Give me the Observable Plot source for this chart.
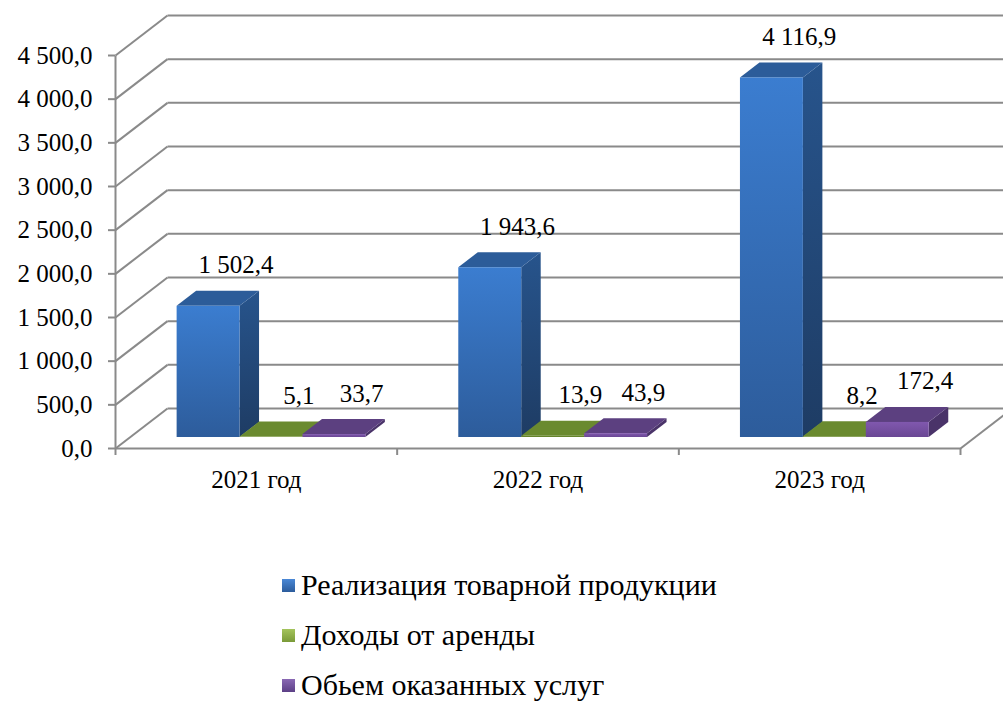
<!DOCTYPE html>
<html><head><meta charset="utf-8">
<script src="https://cdn.jsdelivr.net/npm/d3@7"></script>
<script src="https://cdn.jsdelivr.net/npm/@observablehq/plot@0.6"></script>
<style>
html,body{margin:0;padding:0;background:#fff;overflow:hidden;}
#wrap{position:relative;width:1003px;height:706px;overflow:hidden;}
#chart{position:absolute;left:0;top:0;}
#legend{position:absolute;left:282px;top:560px;font-family:"Liberation Serif","Times New Roman","Tinos","Noto Serif","DejaVu Serif",serif;font-size:30px;line-height:1.15;color:#000;}
.item{display:flex;align-items:center;height:50px;white-space:nowrap;}
.sw{width:13px;height:13px;margin-right:6px;flex:none;}
#chart svg text{font-family:"Liberation Serif","Times New Roman","Tinos","Noto Serif","DejaVu Serif",serif;}
g[aria-label="y-axis"] line, g[aria-label="x-axis"] line,
g[aria-label="y-axis tick"] path, g[aria-label="x-axis tick"] path{stroke:#8a8a8a;stroke-width:2px;}
g[aria-label="y-axis"] text, g[aria-label="y-axis tick label"] text{fill:#000;}
</style></head>
<body><div id="wrap"><div id="chart"></div><div id="legend"></div></div>
<script>
// ---- data ----
const years = ["2021 год", "2022 год", "2023 год"];
const seriesNames = ["Реализация товарной продукции", "Доходы от аренды", "Обьем оказанных услуг"];
const sales = [1502.4, 1943.6, 4116.9];
const rent = [5.1, 13.9, 8.2];
const services = [33.7, 43.9, 172.4];
const yTicks = [0, 500, 1000, 1500, 2000, 2500, 3000, 3500, 4000, 4500];

// ---- styling / projection constants ----
const seriesVals = [sales, rent, services];
const frontFill = ["url(#gBlueFront)", "url(#gGreenFront)", "url(#gPurpleFront)"];
const sideFill = ["url(#gBlueSide)", "#55701f", "#4a3369"];
const topFill = ["#2c5c99", "#6a8a2f", "#5c4080"];
const legendFill = ["linear-gradient(#4a88d6,#2c5c9c)", "linear-gradient(#a4c45c,#7a9a38)", "linear-gradient(#8a68b4,#5c4086)"];
const DX = 52 / (845 / 3);      // depth -> x (category units)
const DY = 40 / (393 / 4500);   // depth -> y (value units)
const F0 = 0.275, F1 = 0.65, FL = 0.8;
const BAR_W = 0.2234, GROUP_OFF = 0.168;
const GRID = "#8a8a8a";
const FONT = "'Liberation Serif','Times New Roman','Tinos','Noto Serif','DejaVu Serif',serif";

const loc = d3.formatLocale({decimal: ",", thousands: "\u00a0", grouping: [3], currency: ["", ""]});
const fmt = loc.format(",.1f");

const rows = years.flatMap((yr, i) => seriesVals.map((vals, j) => ({i, j, year: yr, series: seriesNames[j], value: vals[i]})));
const xl = d => d.i + GROUP_OFF + d.j * BAR_W;
const zid = d => d.i * 3 + d.j;

const sideData = rows.flatMap(d => [F0, F1].map(f => ({...d, x: xl(d) + BAR_W + f * DX, y1: f * DY, y2: d.value + f * DY})));
const topData = rows.flatMap(d => [F0, F1].map(f => ({...d, y: d.value + f * DY, x1: xl(d) + f * DX, x2: xl(d) + BAR_W + f * DX})));

const chart = Plot.plot({
  width: 1003, height: 520,
  marginLeft: 115, marginRight: 43, marginTop: 10, marginBottom: 72,
  style: {fontFamily: FONT, fontSize: "25px", color: "#000", background: "#fff"},
  x: {type: "linear", domain: [0, 3], range: [115, 960], ticks: [0, 1, 2, 3], tickFormat: () => "", tickSize: 7, label: null},
  y: {type: "linear", domain: [0, 4500], range: [448, 55], ticks: yTicks, tickFormat: fmt, tickSize: 7, tickPadding: 16, label: null},
  color: {type: "identity"},
  marks: [
    Plot.link(yTicks, {x1: () => 0, y1: d => d, x2: () => DX, y2: d => d + DY, stroke: GRID, strokeWidth: 2}),
    Plot.link(yTicks, {x1: () => DX, y1: d => d + DY, x2: () => 3 + DX + 0.2, y2: d => d + DY, stroke: GRID, strokeWidth: 2}),
    Plot.link([0], {x1: () => 0, y1: () => 0, x2: () => 0, y2: () => 4500, stroke: GRID, strokeWidth: 2}),
    Plot.link([0], {x1: () => 0, y1: () => 0, x2: () => 3, y2: () => 0, stroke: GRID, strokeWidth: 2}),
    Plot.link([0], {x1: () => 3, y1: () => 0, x2: () => 3 + DX, y2: () => DY, stroke: GRID, strokeWidth: 2}),
    Plot.areaY(sideData, {x: "x", y1: "y1", y2: "y2", z: zid, fill: d => sideFill[d.j]}),
    Plot.areaX(topData, {y: "y", x1: "x1", x2: "x2", z: zid, fill: d => topFill[d.j]}),
    Plot.rect(rows, {x1: d => xl(d) + F0 * DX, x2: d => xl(d) + BAR_W + F0 * DX, y1: () => F0 * DY, y2: d => d.value + F0 * DY, fill: d => frontFill[d.j]}),
    Plot.text(rows, {x: d => xl(d) + BAR_W / 2 + FL * DX, y: d => d.value + FL * DY, text: d => fmt(d.value), dy: -20, fill: "#000", fontFamily: FONT}),
    Plot.text(years, {x: (d, i) => i + 0.5, y: () => 0, text: d => d, dy: 31, fill: "#000", fontFamily: FONT})
  ]
});

const defs = d3.select(chart).insert("defs", ":first-child");
function vgrad(id, c1, c2) {
  const g = defs.append("linearGradient").attr("id", id).attr("x1", 0).attr("y1", 0).attr("x2", 0).attr("y2", 1);
  g.append("stop").attr("offset", "0%").attr("stop-color", c1);
  g.append("stop").attr("offset", "100%").attr("stop-color", c2);
}
vgrad("gBlueFront", "#3b7dd0", "#2d5c9b");
vgrad("gBlueSide", "#27548c", "#1e3c64");
vgrad("gGreenFront", "#708f32", "#5f7d28");
vgrad("gPurpleFront", "#8058ae", "#6a4794");

document.getElementById("chart").appendChild(chart);

const legend = document.getElementById("legend");
seriesNames.forEach((name, j) => {
  const item = document.createElement("div");
  item.className = "item";
  const sw = document.createElement("span");
  sw.className = "sw";
  sw.style.background = legendFill[j];
  const t = document.createElement("span");
  t.textContent = name;
  item.appendChild(sw); item.appendChild(t);
  legend.appendChild(item);
});
</script></body></html>
